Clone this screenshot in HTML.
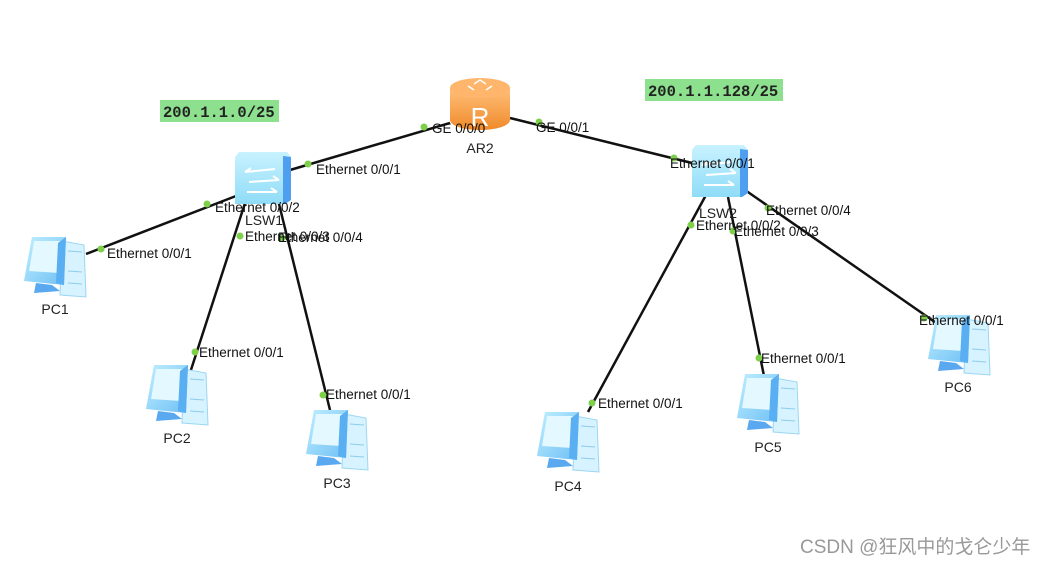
<!DOCTYPE html>
<html><head><meta charset="utf-8"><style>
html,body{margin:0;padding:0;background:#fff;}
svg text{font-family:"Liberation Sans",sans-serif;}
</style></head><body>
<svg width="1046" height="566" viewBox="0 0 1046 566" xmlns="http://www.w3.org/2000/svg">
<defs>
<linearGradient id="pcg" x1="0" y1="0" x2="1" y2="1"><stop offset="0" stop-color="#bfefff"/><stop offset="1" stop-color="#6fc0f5"/></linearGradient>
<linearGradient id="rg" x1="0" y1="0" x2="0" y2="1"><stop offset="0" stop-color="#ffc07a"/><stop offset="1" stop-color="#f08a2a"/></linearGradient>
<linearGradient id="sg" x1="0" y1="0" x2="0" y2="1"><stop offset="0" stop-color="#c8f2ff"/><stop offset="1" stop-color="#8fdcf7"/></linearGradient>
<g id="pc">
<path d="M40 6 L62 10 L64 62 L38 60 Z" fill="#d6f3ff" stroke="#9dd6f2" stroke-width="1"/>
<path d="M46 16 L60 17 M46 36 L60 37 M46 48 L60 49" stroke="#8fcbea"/>
<path d="M10 2 L44 2 L42 50 L2 46 Z" fill="url(#pcg)"/>
<path d="M12 6 L40 6 L37 38 L7 36 Z" fill="#e3f8ff"/>
<path d="M14 48 L30 50 L38 56 L12 58 Z" fill="#5aa8ef"/>
<path d="M36 8 L44 2 L42 50 L34 48 Z" fill="#5aaef2"/>
</g>
<g id="sw">
<path d="M4 0 L52 0 L56 5 L56 48 L50 52 L0 52 L0 5 Z" fill="url(#sg)"/>
<path d="M48 4 L56 5 L56 48 L50 52 L48 52 Z" fill="#4f9ff0"/>
<path d="M10 20 L40 17 M10 20 L16 16 M14 30 L44 28 M44 28 L38 24 M12 40 L42 40 M42 40 L36 36" stroke="#fff" stroke-width="2" fill="none"/>
</g>
</defs>
<g stroke="#111" stroke-width="2.5">
<line x1="450" y1="123" x2="290" y2="170"/>
<line x1="510" y1="118" x2="692" y2="163"/>
<line x1="236" y1="196" x2="86" y2="254"/>
<line x1="246" y1="200" x2="189" y2="376"/>
<line x1="278" y1="200" x2="330" y2="410"/>
<line x1="706" y1="195" x2="588" y2="412"/>
<line x1="728" y1="197" x2="764" y2="376"/>
<line x1="745" y1="190" x2="942" y2="327"/>
</g>
<g>
<path d="M450 88 L450 120 A30 10 0 0 0 510 120 L510 88 Z" fill="url(#rg)"/>
<ellipse cx="480" cy="88" rx="30" ry="10" fill="#ffb56b"/>
<text x="480" y="126" font-size="26" fill="#fff" text-anchor="middle">R</text>
<path d="M468 86 L474 90 M492 86 L486 90 M474 84 L480 80 L486 84" stroke="#fff" stroke-width="1.5" fill="none"/>
</g>
<use href="#sw" x="235" y="152"/>
<use href="#sw" x="692" y="145"/>
<use href="#pc" x="22" y="235"/>
<use href="#pc" x="144" y="363"/>
<use href="#pc" x="304" y="408"/>
<use href="#pc" x="535" y="410"/>
<use href="#pc" x="735" y="372"/>
<use href="#pc" x="926" y="313"/>
<g fill="#7ed04a">
<circle cx="424" cy="127" r="3.5"/><circle cx="308" cy="164" r="3.5"/>
<circle cx="539" cy="122" r="3.5"/><circle cx="674" cy="158" r="3.5"/>
<circle cx="207" cy="204" r="3.5"/><circle cx="101" cy="249" r="3.5"/>
<circle cx="240" cy="236" r="3.5"/><circle cx="195" cy="352" r="3.5"/>
<circle cx="282" cy="238" r="3.5"/><circle cx="323" cy="395" r="3.5"/>
<circle cx="691" cy="225" r="3.5"/><circle cx="592" cy="403" r="3.5"/>
<circle cx="733" cy="231" r="3.5"/><circle cx="759" cy="358" r="3.5"/>
<circle cx="768" cy="208" r="3.5"/><circle cx="924" cy="318" r="3.5"/>
</g>
<g font-size="13.5" fill="#111">
<text x="432" y="133">GE 0/0/0</text>
<text x="316" y="174">Ethernet 0/0/1</text>
<text x="536" y="132">GE 0/0/1</text>
<text x="670" y="168">Ethernet 0/0/1</text>
<text x="215" y="212">Ethernet 0/0/2</text>
<text x="107" y="258">Ethernet 0/0/1</text>
<text x="245" y="241">Ethernet 0/0/3</text>
<text x="278" y="242">Ethernet 0/0/4</text>
<text x="199" y="357">Ethernet 0/0/1</text>
<text x="326" y="399">Ethernet 0/0/1</text>
<text x="696" y="230">Ethernet 0/0/2</text>
<text x="734" y="236">Ethernet 0/0/3</text>
<text x="766" y="215">Ethernet 0/0/4</text>
<text x="598" y="408">Ethernet 0/0/1</text>
<text x="761" y="363">Ethernet 0/0/1</text>
<text x="919" y="325">Ethernet 0/0/1</text>
</g>
<g font-size="14" fill="#222" text-anchor="middle">
<text x="480" y="153">AR2</text>
<text x="264" y="225">LSW1</text>
<text x="718" y="218">LSW2</text>
<text x="55" y="314">PC1</text>
<text x="177" y="443">PC2</text>
<text x="337" y="488">PC3</text>
<text x="568" y="491">PC4</text>
<text x="768" y="452">PC5</text>
<text x="958" y="392">PC6</text>
</g>
<rect x="160" y="100" width="119" height="22" fill="#8de08d"/>
<text x="163" y="117" font-size="15.5" font-weight="bold" fill="#222" style="font-family:'Liberation Mono',monospace">200.1.1.0/25</text>
<rect x="645" y="79" width="138" height="22" fill="#8de08d"/>
<text x="648" y="96" font-size="15.5" font-weight="bold" fill="#222" style="font-family:'Liberation Mono',monospace">200.1.1.128/25</text>
<text x="800" y="553" font-size="19" fill="#999" style="font-family:'Liberation Sans','Noto Sans CJK SC',sans-serif">CSDN @狂风中的戈仑少年</text>
</svg>
</body></html>
